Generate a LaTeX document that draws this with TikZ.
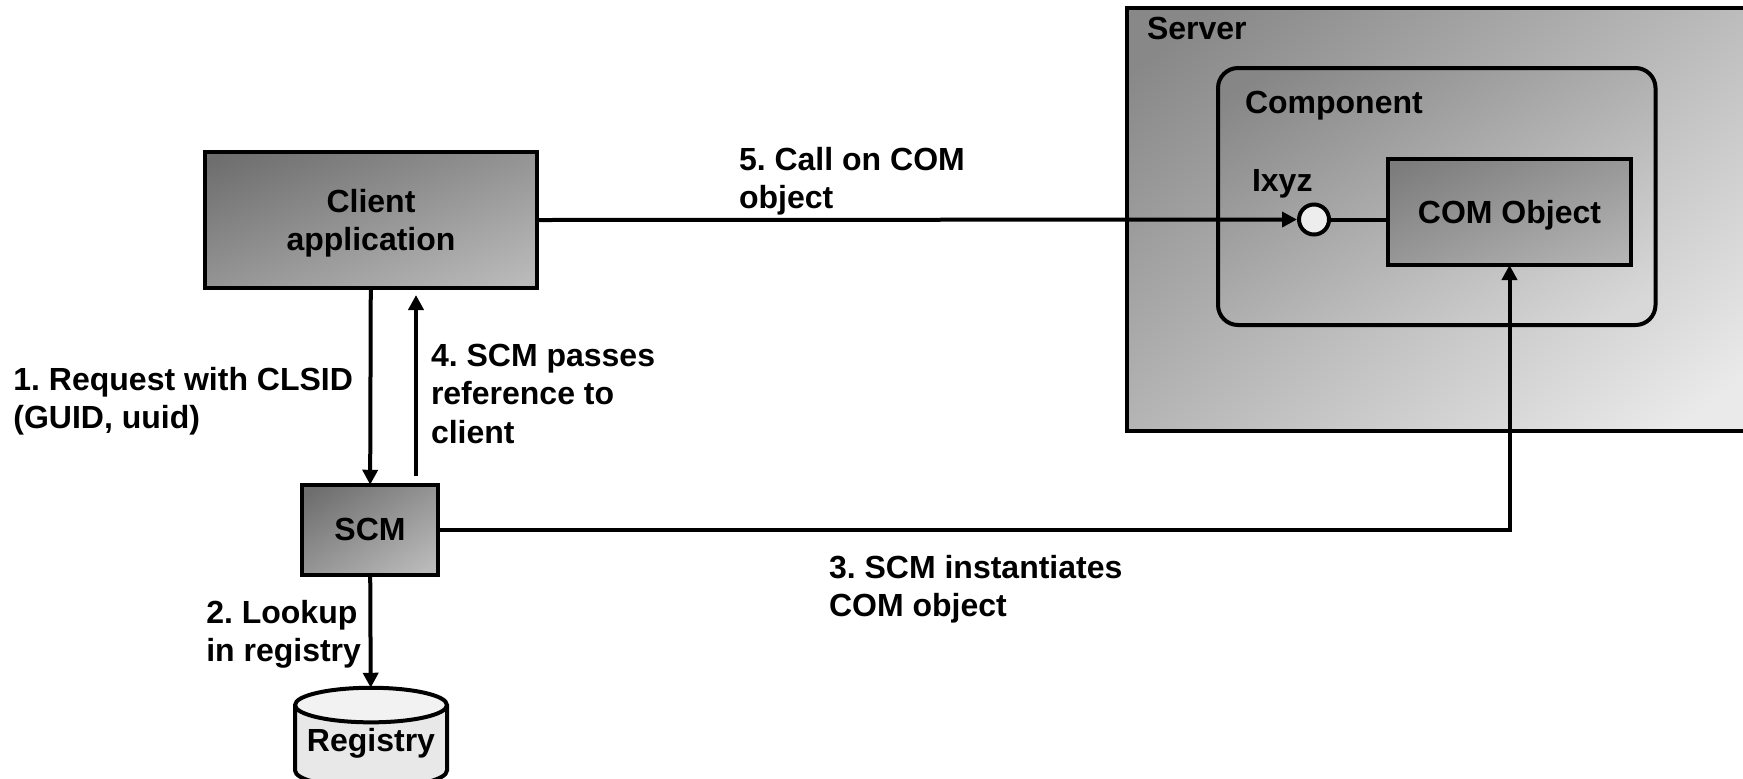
\documentclass[tikz,border=0pt]{standalone}
\usepackage{fontspec}
\setmainfont{Liberation Sans}
\usepackage{xcolor}
\usepackage{tikz}
\usetikzlibrary{arrows.meta}
\usetikzlibrary{positioning}
\usetikzlibrary{shapes.geometric}

\definecolor{boxdark}{HTML}{6E6E6E}
\definecolor{boxlight}{HTML}{BABABA}
\definecolor{objdark}{HTML}{7C7C7C}
\definecolor{objlight}{HTML}{B4B4B4}
\definecolor{compdark}{HTML}{868686}
\definecolor{complight}{HTML}{D8D8D8}
\definecolor{servdark}{HTML}{888888}
\definecolor{servlight}{HTML}{EAEAEA}
\pgfdeclarehorizontalshading{boxshade}{100bp}{color(0bp)=(boxdark); color(20bp)=(boxdark); color(80bp)=(boxlight); color(100bp)=(boxlight)}
\pgfdeclarehorizontalshading{objshade}{100bp}{color(0bp)=(objdark); color(20bp)=(objdark); color(80bp)=(objlight); color(100bp)=(objlight)}
\pgfdeclarehorizontalshading{compshade}{100bp}{color(0bp)=(compdark); color(20bp)=(compdark); color(80bp)=(complight); color(100bp)=(complight)}
\pgfdeclarehorizontalshading{servshade}{100bp}{color(0bp)=(servdark); color(20bp)=(servdark); color(80bp)=(servlight); color(100bp)=(servlight)}
\frenchspacing

\begin{document}
\begin{tikzpicture}[x=.5pt,y=-.5pt,-,>={Triangle[length=7.5pt,width=7.5pt]},line width=2pt,font=\fontsize{16}{19.2}\selectfont\bfseries]
	\tikzstyle{box}=[draw, shade, align=center, outer sep=0pt, inner sep=0pt, text depth=0pt]
	\tikzstyle{lbl}=[align=left, inner sep=0pt, outer sep=0pt]
	\clip[use as bounding box] (0,0) rectangle (1743,778);

	\node[box, shading=boxshade, shading angle=-68, minimum width=166pt, minimum height=67.75pt] (Client) at (371,220) {Client\\application};
	\node[box, shading=boxshade, shading angle=-57, minimum width=68pt, minimum height=45pt] (SCM) [below=98.5pt of Client, xshift=-.5pt] {SCM};
	\node[draw, cylinder, shape border rotate=90, aspect=.27, minimum width=76pt, minimum height=50pt, inner sep=0pt, outer sep=0pt, text depth=7.8pt,
		cylinder uses custom fill, cylinder end fill=black!5, cylinder body fill=black!9] (Registry) [below=56.5pt of SCM, xshift=.5pt] {Registry};

	\node[box, shading=servshade, shading angle=-52, anchor=north west, minimum width=316.5pt, minimum height=211.75pt] (Server) at (1127,7.5) {};
	\node[box, shading=compshade, shading angle=-59, rounded corners=10pt, minimum width=218.75pt, minimum height=128.5pt] (Component) [below right=30.25pt and 45.5pt of Server.north west] {};
	\node[box, shading=objshade, shading angle=-66, minimum width=121.5pt, minimum height=53pt] (COM) [below left=45.5pt and 12.25pt of Component.north east] {COM Object};
	\node[draw, circle, fill=black!7, minimum size=15pt, inner sep=0pt, outer sep=1pt] (Ixyz) [left=28.5pt of COM.west, yshift=-3.75pt] {};

	\node[lbl] (ServerLbl) [below right=5pt and 10pt of Server.north west] {Server};
	\node[lbl] (ComponentLbl) [below right=11.5pt and 13.5pt of Component.north west] {Component};
	\node[lbl] (IxyzLbl) [right=17pt of Component.west, yshift=6.3pt] {Ixyz};
	\node[lbl] (ReqLbl) [left=9pt of Client.south, yshift=-56.7pt] {1. Request with CLSID\\(GUID, uuid)};
	\node[lbl] (LookupLbl) [left=4.5pt of SCM.south, yshift=-29.7pt] {2. Lookup\\in registry};
	\node[lbl] (InstLbl) [right=195.5pt of SCM.east, yshift=-29.7pt] {3. SCM instantiates\\COM object};
	\node[lbl] (PassLbl) [right=30pt of Client.south, yshift=-53pt] {4. SCM passes\\reference to\\client};
	\node[lbl] (CallLbl) [right=101pt of Client.east, yshift=19.3pt] {5. Call on COM\\object};

	\coordinate (upS) at (416,476);
	\coordinate (upC) at (416,295);

	\path
		(Client) edge [->] (SCM)
		(upS) edge [->] (upC)
		(SCM) edge [->] (Registry)
		(Client.east) edge [->] (Ixyz)
		(Ixyz) edge (Ixyz -| COM.west);
	\draw[->] (SCM.east) -| (COM.south);
\end{tikzpicture}
\end{document}
